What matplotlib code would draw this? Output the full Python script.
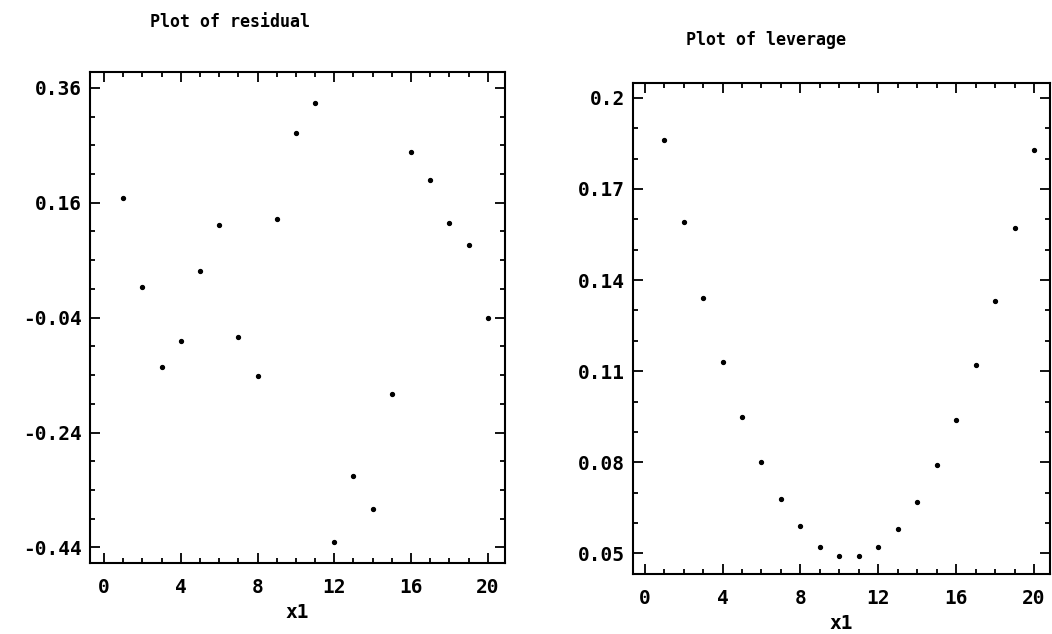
import numpy as np
import matplotlib.pyplot as plt
from matplotlib.ticker import MultipleLocator, FixedLocator

# Observation index
x1 = np.arange(1, 21)

# Residuals
residual = [0.168, 0.013, -0.126, -0.081, 0.041, 0.122, -0.073, -0.141, 0.131, 0.282,
            0.334, -0.430, -0.316, -0.373, -0.173, 0.248, 0.200, 0.124, 0.087, -0.040]

# Leverage
leverage = [0.186, 0.159, 0.134, 0.113, 0.095, 0.080, 0.068, 0.059, 0.052, 0.049,
            0.049, 0.052, 0.058, 0.067, 0.079, 0.094, 0.112, 0.133, 0.157, 0.183]

x_ticks = [0, 4, 8, 12, 16, 20]
res_ticks = [-0.44, -0.24, -0.04, 0.16, 0.36]
res_labels = ['-0.44', '-0.24', '-0.04', '0.16', '0.36']
lev_ticks = [0.05, 0.08, 0.11, 0.14, 0.17, 0.2]
lev_labels = ['0.05', '0.08', '0.11', '0.14', '0.17', '0.2']

plt.rcParams['font.family'] = ['DejaVu Sans Mono']
plt.rcParams['font.weight'] = 'bold'
plt.rcParams['axes.labelweight'] = 'bold'

fig = plt.figure(figsize=(10.52, 6.34), dpi=100)
ax1 = fig.add_axes([0.0856, 0.112, 0.3945, 0.774])
ax2 = fig.add_axes([0.6017, 0.0946, 0.396, 0.774])

def style(ax):
  for s in ax.spines.values():
    s.set_linewidth(1.5)
  ax.tick_params(which='both', direction='in', top=True, right=True,
                 labelsize=14, width=1.3)
  ax.tick_params(which='major', length=7.5)
  ax.tick_params(which='minor', length=3.5)
  ax.tick_params(axis='x', pad=11)
  ax.tick_params(axis='y', pad=6)
  ax.xaxis.set_major_locator(FixedLocator(x_ticks))
  ax.xaxis.set_minor_locator(MultipleLocator(1))
  ax.set_xticklabels([str(t) for t in x_ticks])

# Residual plot
ax1.plot(x1, residual, 'o', color='black', ms=2.8)
style(ax1)
ax1.set_xlim(-0.73, 20.9)
ax1.set_ylim(-0.467, 0.387)
ax1.yaxis.set_major_locator(FixedLocator(res_ticks))
ax1.yaxis.set_minor_locator(FixedLocator(np.arange(-0.44, 0.37, 0.05)))
ax1.set_yticklabels(res_labels)
ax1.set_xlabel('x1', fontsize=14, labelpad=4)

# Leverage plot
ax2.plot(x1, leverage, 'o', color='black', ms=2.8)
style(ax2)
ax2.set_xlim(-0.6, 20.8)
ax2.set_ylim(0.0432, 0.2048)
ax2.yaxis.set_major_locator(FixedLocator(lev_ticks))
ax2.yaxis.set_minor_locator(MultipleLocator(0.01))
ax2.set_yticklabels(lev_labels)
ax2.set_xlabel('x1', fontsize=14, labelpad=4)

fig.text(230/1052, 1-22/634, 'Plot of residual', ha='center', va='center', fontsize=12)
fig.text(766/1052, 1-40/634, 'Plot of leverage', ha='center', va='center', fontsize=12)

plt.savefig('out.png', dpi=100)
